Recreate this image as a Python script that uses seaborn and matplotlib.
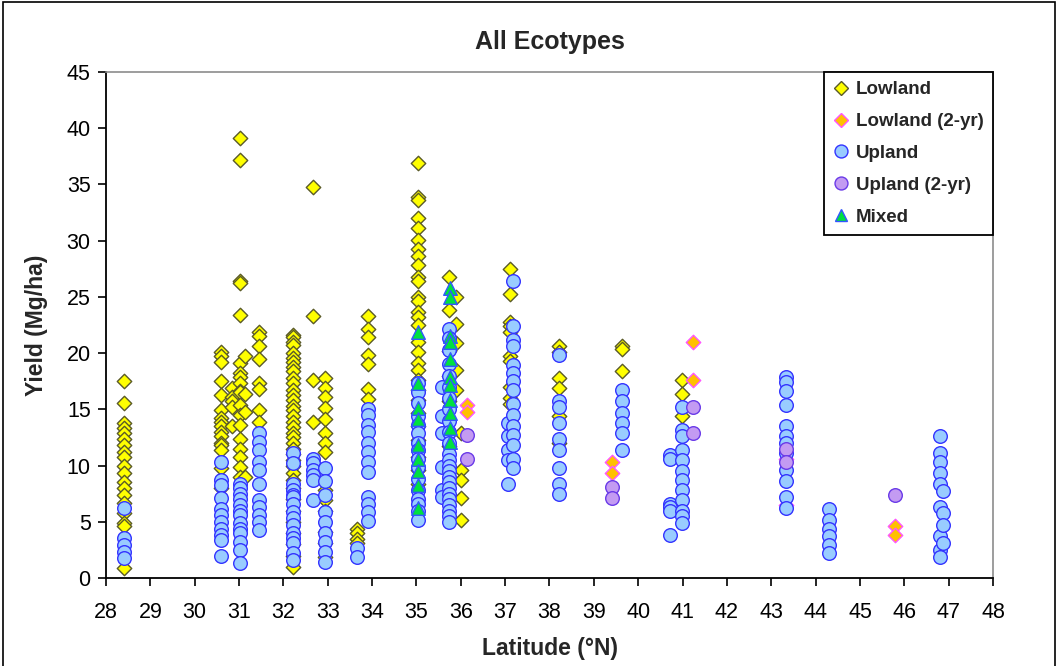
import matplotlib
matplotlib.use("Agg")
import matplotlib.pyplot as plt
from matplotlib.lines import Line2D
from matplotlib.patches import Rectangle
import pandas as pd
import seaborn as sns

# Yield observations (Mg/ha) grouped by site latitude (deg N)
LOWLAND = {
    28.4: [17.5, 15.6, 13.8, 13.3, 12.9, 12.4, 11.8, 11.2, 10.8, 10.0, 9.3, 8.5, 8.0, 7.4, 6.7, 5.8, 4.9, 4.6, 0.9],
    30.6: [20.1, 19.7, 19.2, 17.5, 16.3, 14.9, 14.2, 13.9, 13.5, 13.0, 12.6, 12.0, 11.8, 11.4, 9.8, 8.0],
    30.83: [16.9, 16.1, 15.7, 15.2, 13.5],
    31.02: [39.1, 37.2, 26.4, 26.2, 23.4, 19.1, 18.2, 17.9, 17.3, 16.6, 16.5, 15.4, 14.5, 13.6, 12.4, 11.5, 10.8, 9.9, 9.0],
    31.13: [19.7, 16.4, 14.8, 9.0],
    31.46: [21.9, 21.5, 20.6, 19.5, 17.3, 16.8, 14.9, 13.9],
    32.22: [21.6, 21.4, 21.0, 20.7, 20.0, 19.6, 19.2, 18.8, 18.4, 17.8, 17.3, 16.7, 16.3, 15.8, 15.3, 14.9,
            14.4, 13.9, 13.4, 12.9, 12.5, 12.0, 11.5, 11.0, 10.5, 10.0, 9.3, 8.7, 8.0, 7.0, 6.0, 5.0, 4.0,
            3.0, 2.0, 1.0],
    32.66: [34.8, 23.3, 17.6, 13.9],
    32.94: [17.8, 16.9, 16.1, 15.1, 14.1, 12.9, 12.0, 11.2, 7.8, 6.9, 6.0, 4.1, 3.1, 1.9],
    33.65: [4.4, 4.0, 3.5, 3.1],
    33.9: [23.3, 22.1, 21.4, 19.8, 19.0, 16.8, 15.9],
    35.03: [36.9, 33.9, 33.6, 32.0, 31.1, 30.1, 29.3, 28.6, 27.8, 26.8, 26.4, 25.0, 24.6, 23.7, 23.2, 22.5,
            21.0, 20.1, 19.1, 18.5, 17.6, 16.7, 15.8, 14.7, 13.5, 12.3, 10.8, 9.6, 8.4],
    35.74: [26.8, 23.8, 20.2, 18.0, 15.7, 11.7],
    35.9: [25.0, 22.6, 20.9, 18.5, 16.7],
    36.0: [12.9, 9.6, 8.7, 7.1, 5.2],
    37.1: [27.5, 25.3, 22.8, 22.4, 21.9, 19.7, 19.3, 17.0, 16.0, 15.5, 14.0, 13.5],
    38.22: [20.6, 20.1, 17.8, 16.9, 14.4, 12.0],
    39.63: [20.6, 20.4, 18.4],
    40.98: [17.6, 16.4, 14.4],
}

LOWLAND_2YR = {
    36.13: [15.4, 14.8],
    39.4: [10.3, 9.3],
    41.23: [21.0, 17.6],
    43.33: [10.6, 6.5],
    45.8: [4.6, 3.8],
}

UPLAND = {
    28.4: [6.2, 3.6, 2.9, 2.3, 1.8],
    30.6: [10.3, 8.7, 8.3, 7.1, 6.1, 5.6, 5.0, 4.4, 3.8, 3.4, 2.0],
    31.02: [8.4, 8.0, 7.5, 7.0, 6.5, 6.0, 5.6, 4.9, 4.4, 4.0, 3.2, 2.5, 1.3],
    31.46: [12.9, 12.1, 11.4, 10.3, 9.6, 8.4, 6.9, 6.3, 5.6, 5.0, 4.3],
    32.22: [11.1, 10.2, 8.4, 7.8, 7.4, 7.2, 6.6, 5.9, 5.3, 4.7, 4.0, 3.6, 3.1, 2.2, 1.6],
    32.66: [10.6, 10.2, 9.6, 9.2, 8.7, 6.9],
    32.94: [9.8, 8.6, 7.4, 5.9, 5.0, 4.0, 3.2, 2.3, 1.4],
    33.65: [2.7, 1.9],
    33.9: [15.0, 14.5, 13.6, 13.0, 12.0, 11.2, 10.3, 9.4, 7.2, 6.6, 5.9, 5.1],
    35.03: [17.3, 16.5, 15.6, 14.4, 13.6, 12.9, 12.0, 11.4, 10.6, 9.9, 8.8, 7.8, 7.0, 6.6, 6.0, 5.2],
    35.57: [17.0, 14.4, 12.9, 9.9, 7.8, 7.2],
    35.74: [22.1, 21.3, 20.3, 19.0, 18.0, 17.0, 16.0, 15.0, 14.0, 13.0, 12.0, 11.0, 10.5, 10.0, 9.5, 9.0,
            8.5, 8.0, 7.5, 7.0, 6.5, 6.0, 5.5, 5.0],
    37.07: [13.8, 12.6, 11.4, 10.5, 8.4],
    37.17: [26.4, 22.4, 21.2, 20.6, 18.9, 18.2, 17.5, 16.7, 15.5, 14.5, 13.5, 12.7, 11.8, 10.6, 9.8],
    38.22: [19.8, 15.7, 15.2, 13.8, 12.4, 11.4, 9.8, 8.4, 7.5],
    39.63: [16.7, 15.7, 14.7, 13.8, 12.9, 11.4],
    40.72: [10.9, 10.6, 6.6, 6.3, 6.0, 3.8],
    40.98: [15.2, 13.2, 12.6, 11.4, 10.5, 9.5, 8.7, 7.8, 6.9, 6.0, 5.5, 4.9],
    43.33: [17.9, 17.4, 16.6, 15.4, 13.5, 12.6, 12.0, 11.1, 9.6, 8.6, 7.2, 6.2],
    44.3: [6.1, 5.2, 4.4, 3.7, 2.9, 2.2],
    46.8: [12.6, 11.1, 10.3, 9.3, 8.4, 6.3, 3.7, 2.5, 1.9],
    46.88: [7.7, 5.8, 4.7, 3.1],
}

UPLAND_2YR = {
    36.13: [12.7, 10.6],
    39.4: [8.1, 7.1],
    41.23: [15.2, 12.9],
    43.33: [11.5, 10.3],
    45.8: [7.4],
}

MIXED = {
    35.03: [21.9, 17.3, 15.1, 14.1, 11.8, 10.6, 9.5, 8.3, 6.2],
    35.75: [25.8, 25.0, 21.5, 21.0, 19.5, 17.9, 17.2, 15.8, 14.7, 13.3, 12.1],
}

X_TICKS = list(range(28, 49))
Y_TICKS = list(range(0, 46, 5))


def to_frame(groups):
    rows = [(lat, y) for lat, ys in groups.items() for y in ys]
    return pd.DataFrame(rows, columns=["lat", "yield"])


# name, data, marker, face, edge, size, edge width
SERIES = [
    ("Lowland", LOWLAND, "D", "#FFFF00", "#5A5A28", 54, 1.0),
    ("Lowland (2-yr)", LOWLAND_2YR, "D", "#FFC000", "#FF55FF", 54, 1.0),
    ("Upland", UPLAND, "o", "#99CCFF", "#3333FF", 96, 1.0),
    ("Upland (2-yr)", UPLAND_2YR, "o", "#C39BF2", "#6A3AE8", 96, 1.0),
    ("Mixed", MIXED, "^", "#00E040", "#3355FF", 96, 1.0),
]

sns.set_theme(style="white")
plt.rcParams["font.family"] = ["Liberation Sans", "DejaVu Sans"]

fig = plt.figure(figsize=(10.62, 6.66), dpi=100)
ax = fig.add_axes([106 / 1062, 1 - 578 / 666, (993 - 106) / 1062, (578 - 72) / 666])

handles = []
for name, groups, marker, face, edge, size, lw in SERIES:
    df = to_frame(groups)
    sns.scatterplot(data=df, x="lat", y="yield", ax=ax, marker=marker, color=face,
                    edgecolor=edge, linewidth=lw, s=size, legend=False, zorder=3)
    handles.append(Line2D([], [], linestyle="none", marker=marker, markerfacecolor=face,
                          markeredgecolor=edge, markeredgewidth=lw,
                          markersize=(size ** 0.5) * (0.95 if marker != "D" else 1.0),
                          label=name))

ax.set_xlim(28, 48)
ax.set_ylim(0, 45)
ax.set_xticks(X_TICKS)
ax.set_yticks(Y_TICKS)
ax.tick_params(axis="both", which="major", direction="out", length=6, width=1.2,
               labelsize=15.5, colors="black", bottom=True, left=True, pad=5)
ax.tick_params(axis="x", pad=11)
ax.set_xlabel("")
ax.set_ylabel("")

for side in ("left", "bottom"):
    ax.spines[side].set_color("black")
    ax.spines[side].set_linewidth(1.3)
for side in ("top", "right"):
    ax.spines[side].set_color("#8C8C8C")
    ax.spines[side].set_linewidth(1.2)

leg = ax.legend(handles=handles, loc="upper right", bbox_to_anchor=(1.0, 1.0),
                borderaxespad=0.0, frameon=True, fancybox=False, framealpha=1,
                edgecolor="black", prop={"weight": "bold", "size": 13.5},
                handlelength=0.8, handletextpad=0.4, labelspacing=0.78,
                borderpad=0.5)
leg.get_frame().set_linewidth(1.3)

fig.text(549.5 / 1062, 1 - 42 / 666, "All Ecotypes", ha="center", va="center",
         fontsize=18, fontweight="bold")
fig.text(549.5 / 1062, 1 - 648 / 666, "Latitude (°N)", ha="center", va="center",
         fontsize=16.5, fontweight="bold")
fig.text(37 / 1062, 1 - 325 / 666, "Yield (Mg/ha)", ha="center", va="center",
         rotation=90, fontsize=16.5, fontweight="bold")

# outer chart frame
fig.patches.append(Rectangle((3 / 1062, -0.02), 1052 / 1062, 1.02 - 2 / 666,
                             transform=fig.transFigure, fill=False,
                             edgecolor="black", linewidth=1.2))

fig.savefig("out.png", dpi=100, facecolor="white")
